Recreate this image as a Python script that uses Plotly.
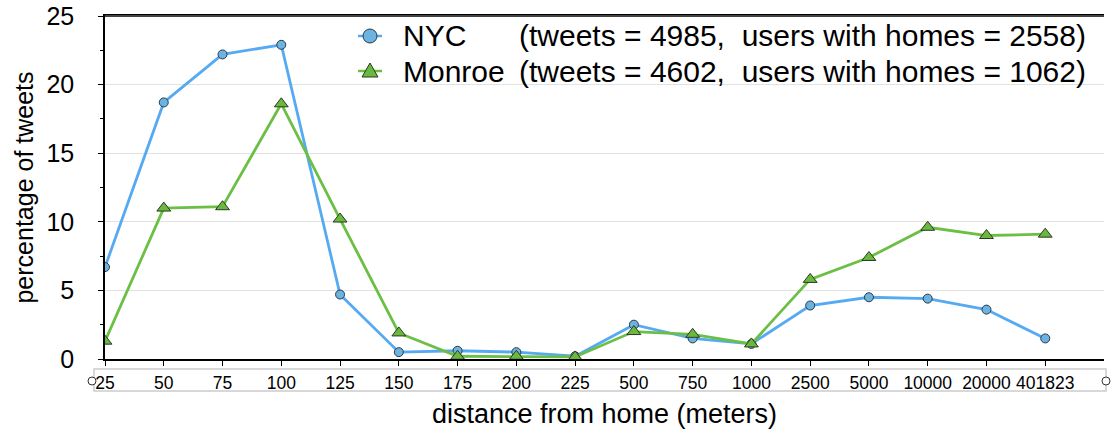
import plotly.graph_objects as go

categories = ["25", "50", "75", "100", "125", "150", "175", "200", "225", "500",
              "750", "1000", "2500", "5000", "10000", "20000", "401823"]
nyc = [6.7, 18.7, 22.2, 22.9, 4.7, 0.5, 0.6, 0.5, 0.2, 2.5, 1.5, 1.1, 3.9, 4.5, 4.4, 3.6, 1.5]
monroe = [1.3, 11.0, 11.1, 18.6, 10.2, 1.9, 0.2, 0.2, 0.15, 2.0, 1.8, 1.1, 5.8, 7.4, 9.6, 9.0, 9.1]
series_names = ["NYC", "Monroe"]
series_details = ["(tweets = 4985,\u00a0\u00a0users with homes = 2558)",
                  "(tweets = 4602,\u00a0\u00a0users with homes = 1062)"]

xs = list(range(len(categories)))
FONT = "Liberation Sans, Arial, Helvetica, sans-serif"
L, R, T, B, W, H = 105, 7, 16, 78, 1111, 437
PW, PH = W - L - R, H - T - B


def px(x):
    return (x - L) / PW


def py(y):
    return (H - B - y) / PH


colors_line = ["#56aaf2", "#6cbf45"]
colors_fill = ["#6cb3e2", "#6ab840"]

fig = go.Figure()
fig.add_trace(go.Scatter(
    x=xs, y=nyc, name=series_names[0], mode="lines+markers", showlegend=False,
    line=dict(color=colors_line[0], width=2.8),
    marker=dict(symbol="circle", size=9, color=colors_fill[0], line=dict(color="#2a3a48", width=1)),
))
fig.add_trace(go.Scatter(
    x=xs, y=monroe, name=series_names[1], mode="lines+markers", showlegend=False,
    line=dict(color=colors_line[1], width=2.8),
    marker=dict(symbol="triangle-up", size=12, color=colors_fill[1], line=dict(color="#2a3a20", width=1)),
))

fig.update_layout(
    width=W, height=H,
    margin=dict(l=L, r=R, t=T, b=B),
    paper_bgcolor="white", plot_bgcolor="white",
    font=dict(family=FONT, color="black"),
    showlegend=False,
    xaxis=dict(range=[0, 17], tickvals=xs, ticktext=categories, automargin=False,
               showgrid=False, zeroline=False,
               showline=True, linecolor="black", linewidth=1.5, mirror=True,
               ticks="outside", ticklen=5, tickcolor="black",
               tickfont=dict(size=17.5), ticklabelstandoff=2,
               title=dict(text="distance from home (meters)", font=dict(size=27), standoff=12)),
    yaxis=dict(range=[0, 25], tickvals=[0, 5, 10, 15, 20, 25], automargin=False,
               showgrid=True, gridcolor="#e2e2e2", zeroline=False,
               showline=True, linecolor="black", linewidth=1.5,
               ticks="outside", ticklen=5, tickcolor="black",
               minor=dict(dtick=2.5, ticks="outside", ticklen=3, tickcolor="black", showgrid=False),
               tickfont=dict(size=25), ticklabelstandoff=19,
               title=dict(text="percentage of tweets", font=dict(size=25), standoff=6)),
)

# top border darker
fig.add_shape(type="line", xref="paper", yref="paper", x0=0, x1=1, y0=1, y1=1,
              line=dict(color="#444444", width=2))
# tick label box
fig.add_shape(type="rect", xref="paper", yref="paper",
              x0=px(94), x1=px(1106), y0=py(391), y1=py(369),
              line=dict(color="#cccccc", width=1.5), fillcolor="rgba(0,0,0,0)", layer="below")
for xc in [92, 1106]:
    fig.add_shape(type="circle", xref="paper", yref="paper",
                  xsizemode="pixel", ysizemode="pixel",
                  xanchor=px(xc), yanchor=py(381),
                  x0=-4, x1=4, y0=-4, y1=4,
                  line=dict(color="#333333", width=1), fillcolor="white")

# custom legend
rows_y = [36, 71]
for i, ry in enumerate(rows_y):
    fig.add_shape(type="line", xref="paper", yref="paper",
                  x0=px(358), x1=px(382), y0=py(ry), y1=py(ry),
                  line=dict(color=colors_line[i], width=2.5))
    if i == 0:
        fig.add_shape(type="circle", xref="paper", yref="paper",
                      xsizemode="pixel", ysizemode="pixel",
                      xanchor=px(370), yanchor=py(ry),
                      x0=-7, x1=7, y0=-7, y1=7,
                      line=dict(color="#2a3a48", width=1), fillcolor=colors_fill[0])
    else:
        fig.add_shape(type="path", xref="paper", yref="paper",
                      xsizemode="pixel", ysizemode="pixel",
                      xanchor=px(370), yanchor=py(ry),
                      path="M -8,-6 L 8,-6 L 0,8 Z",
                      line=dict(color="#2a3a20", width=1), fillcolor=colors_fill[1])
    fig.add_annotation(x=px(401), y=py(ry), xref="paper", yref="paper",
                       text=series_names[i], showarrow=False, xanchor="left", yanchor="middle",
                       font=dict(size=30, family=FONT, color="black"))
    fig.add_annotation(x=px(1088), y=py(ry), xref="paper", yref="paper",
                       text=series_details[i], showarrow=False, xanchor="right", yanchor="middle",
                       font=dict(size=30, family=FONT, color="black"))

fig.write_html("out.html", config={"displayModeBar": False},
               post_script="document.body.style.margin='0';document.body.style.overflow='hidden';")
